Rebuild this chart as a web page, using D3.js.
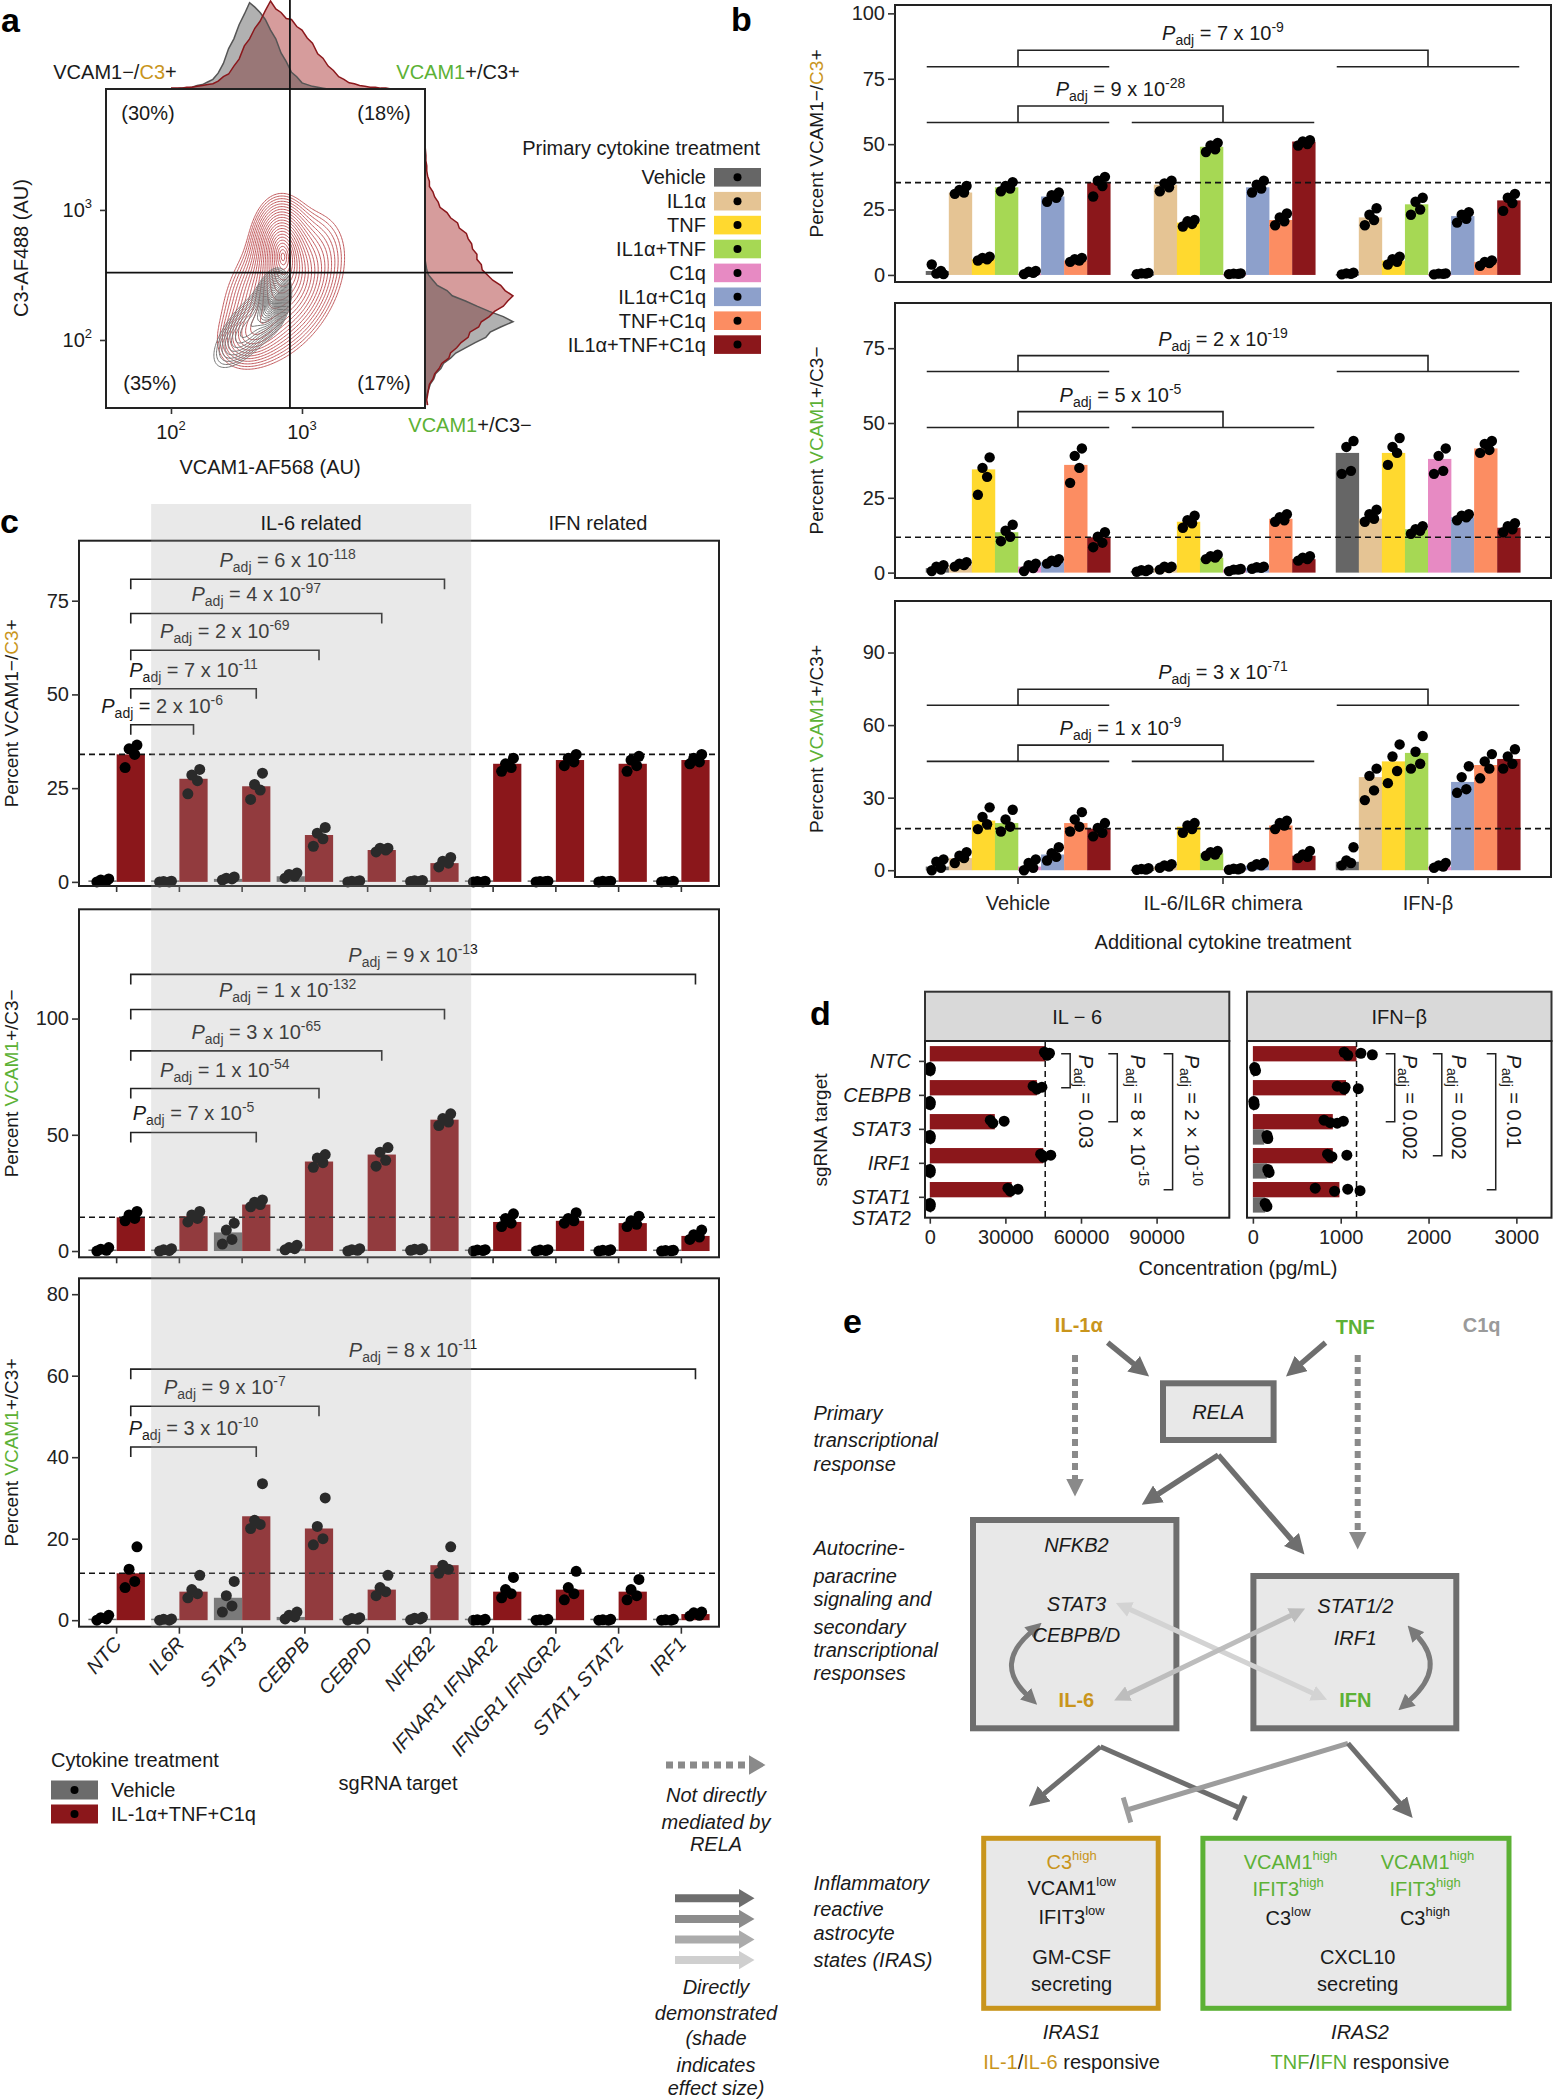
<!DOCTYPE html>
<html><head><meta charset="utf-8">
<script src="https://cdn.jsdelivr.net/npm/d3@7/dist/d3.min.js"></script>
<style>html,body{margin:0;padding:0;background:#fff}svg{display:block}</style>
</head><body>
<svg id="fig" width="1553" height="2100" xmlns="http://www.w3.org/2000/svg"></svg>
<script>
// ================= DATA =================
// Panel a : flow cytometry (log10 units)
const aHistStep = 0.04;
const aTopStart = 2.0;   // log10 VCAM1 of first bin
const aTopGray = [0,0,1,1,2,4,5,8,11,18,29,46,57,73,85,98,93,87,79,67,57,41,31,19,14,7,5,3,2,1,0];
const aTopRed  = [1,1,1,2,2,3,4,5,6,9,14,17,26,34,49,57,69,77,89,100,91,87,80,79,71,67,58,52,40,35,26,21,14,11,7,6,4,3,2,2,1,1,0];
const aRightStart = 1.5; // log10 C3 of first bin
const aRightRed  = [3,2,3,4,5,9,11,16,19,27,29,36,41,49,51,61,64,73,79,89,94,100,91,86,77,71,65,64,59,59,54,53,49,47,39,37,29,25,17,15,11,9,5,5,3,2,2,1,1,0.5,0];
const aRightGray = [0,1,2,4,6,10,12,18,21,29,35,46,57,69,74,86,100,89,73,59,46,31,25,14,9,4,2,1,0];
const aGateVCAM1 = 809, aGateC3 = 330;
const aQuadLabels = ["(30%)","(18%)","(35%)","(17%)"];
// density components: [meanLogVCAM1, meanLogC3, sdX, sdY, rho, weight]
const aRedComps  = [[2.84,2.72,0.1,0.17,0.0,1.0],[2.86,2.4,0.2,0.25,0.4,2.5],[2.62,2.05,0.12,0.12,0.3,0.3]];
const aGrayComps = [[2.77,2.3,0.06,0.11,0.3,1.0],[2.6,2.1,0.14,0.16,0.7,1.3]];

// Panel a/b legend
const bTreatments = ["Vehicle","IL1α","TNF","IL1α+TNF","C1q","IL1α+C1q","TNF+C1q","IL1α+TNF+C1q"];
const bColors = ["#666666","#e5c494","#ffd92f","#a6d854","#e78ac3","#8da0cb","#fc8d62","#8b171b"];
const bGroups = ["Vehicle","IL-6/IL6R chimera","IFN-β"];

// Panel b facet 1: VCAM1-/C3+
const bBarsC3 = [[1.5,31.5,6,33.5,0.5,30,5.5,35.3],[0.3,34.5,20,49,0.3,33.5,21,51],[0.3,22,5.5,27,0.3,22.5,5,28.5]];
const bPtsC3 = [
 [[4,1.5,0.5,0.3],[31,31.5,32.5,34],[5.5,6,6.5,7],[32,33,34,35.5],[0.3,0.8,1.2,1.5],[28,29.5,30.5,31.5],[5,5.5,6,6.5],[30,34,36,37.5]],
 [[0.3,0.5,0.6,0.8],[32,33.5,35,36],[18.5,19.5,20.5,21],[47,48,49.5,50.5],[0.3,0.4,0.5,0.6],[31.5,33,34.5,36],[19,20.5,22,23.5],[49.5,50,51,51.5]],
 [[0.2,0.4,0.6,0.9],[19,21,23,25.5],[4,5,6,7],[23,25,28,29.5],[0.2,0.4,0.5,0.6],[20,21.5,23,24],[3.5,4.5,5,5.5],[24.5,27.5,29.5,31]]];
// Panel b facet 2: VCAM1+/C3-
const bBarsV = [[1.5,2.5,34.5,13.5,2,3.5,36,11.8],[0.5,1.5,17,5,1,1.5,18,4.5],[40,18,40,14.5,38,18.5,41.5,15]];
const bPtsV = [
 [[0.5,1,2,2.5],[2,2.5,3,3.5],[26,32,35,38.5],[10.5,12,14,16],[0.5,1.5,2.5,3],[3,3.5,4,4.5],[30,35,39,41.5],[8.5,10,12,13.5]],
 [[0.3,0.5,0.8,1],[1,1.5,2,2],[15,16.5,17.5,19],[4.5,5,5.5,6],[0.5,1,1,1.2],[1.3,1.6,1.8,2],[17,17.5,18.5,19.5],[4,4.5,5,5.5]],
 [[33,34,42,44],[17,18,19.5,21],[36,40,42,45],[13,14,14.5,15.5],[33,34,39,41.5],[17.5,18.5,19,19.5],[40,41,43,44],[13.5,14.5,15.5,16.5]]];
// Panel b facet 3: VCAM1+/C3+
const bBarsVC = [[1.5,5,20.5,19.5,1.5,6.5,19.5,17.2],[0.3,1.5,18,7,0.5,2,18.5,6],[3.5,38.5,45,48.5,1.5,36.5,43.5,46]];
const bPtsVC = [
 [[0,1,3.5,4.5],[3,5,6,7.5],[17,19,22,26],[16,18,21,25],[0,1,3,4.5],[4,5.5,7,9.5],[16,18,21,24],[14,15.5,17.5,19.5]],
 [[0.2,0.3,0.5,0.8],[1,1.5,2,2.5],[15.5,17,18.5,19.5],[6,6.5,7.5,8],[0.2,0.4,0.6,0.8],[1.5,2,2.5,3],[17,18.5,19.5,20.5],[5,5.5,6.5,8]],
 [[2,3,4,9.5],[29,33,39,42],[36,41,47,52],[42,44,49,55.5],[1,1.5,2,3],[32,33.5,38.5,43],[38,42,45,48],[42,44,47,50]]];
const bDomains = [[-2.7,103.2],[-1.8,90.1],[-2.8,111.3]];
const bTicks = [[0,25,50,75,100],[0,25,50,75],[0,30,60,90]];
const bBrackets = [
 [{a:0,b:2,base:79.6,top:85.9,m:"7",e:"-9"},{a:0,b:1,base:58.3,top:64.6,m:"9",e:"-28"}],
 [{a:0,b:2,base:67.2,top:72.5,m:"2",e:"-19"},{a:0,b:1,base:48.5,top:53.8,m:"5",e:"-5"}],
 [{a:0,b:2,base:68.2,top:74.8,m:"3",e:"-71"},{a:0,b:1,base:45,top:51.7,m:"1",e:"-9"}]];

// Panel c
const cTargets = ["NTC","IL6R","STAT3","CEBPB","CEBPD","NFKB2","IFNAR1 IFNAR2","IFNGR1 IFNGR2","STAT1 STAT2","IRF1"];
const cVehC3 = [0.3,0,0.8,1.5,0.2,0.3,0,0,0,0];
const cVehPtsC3 = [[0,0.3,0.5,0.8],[0,0,0.1,0.2],[0.5,0.8,1,1.3],[1,1.5,2,2.4],[0,0.1,0.2,0.3],[0.1,0.2,0.3,0.4],[0,0,0.1,0.2],[0,0.1,0.1,0.2],[0,0.1,0.2,0.2],[0,0,0.1,0.2]];
const cTriC3 = [34,27.5,25.5,12.5,8.5,5,31.5,32.5,31.5,32.5];
const cTriPtsC3 = [[30.5,34,35.5,36.5],[23.5,27,28.5,30],[22,24.5,26,29],[9.5,11.5,13,14.5],[8,8.5,9,9],[4,5,5.5,6.5],[29.5,30.5,31.5,33],[31,32,33,34],[29.5,31,32.5,33.5],[31.5,32,33,34]];
const cVehV = [0.5,0.2,8,1,0.3,0.5,0.1,0,0,0];
const cVehPtsV = [[0,0.3,0.8,1.5],[0,0.2,0.5,1],[3,5,9,12],[0.5,1,1.5,2.5],[0,0.3,0.6,1],[0.3,0.5,0.8,1],[0,0.2,0.4,0.6],[0,0.2,0.4,0.6],[0,0.2,0.3,0.5],[0,0.1,0.2,0.3]];
const cTriV = [14.5,15,20,38.5,41.5,56.5,12.5,13,12,6.5];
const cTriPtsV = [[13,14,15.5,17],[12.5,14,15.5,17],[19,20,21,22],[36,38,40,41.5],[36.5,39,42.5,44.5],[54,55.5,57,59],[10.5,12,14,16],[12,13,14,16.5],[10.5,11.5,13,15],[5,6,7,9]];
const cVehVC = [0.3,0,5.5,0.8,0.2,0.3,0,0,0,0];
const cVehPtsVC = [[0,0.3,0.6,1.2],[0,0,0.2,0.3],[2,3.5,6,9.5],[0.3,0.8,1.2,2],[0,0.2,0.4,0.6],[0.1,0.3,0.5,0.7],[0,0,0.1,0.2],[0,0,0.1,0.2],[0,0,0.1,0.2],[0,0,0.1,0.2]];
const cTriVC = [11.5,7,25.5,22.5,7.5,13.5,7,7.5,7,1.5];
const cTriPtsVC = [[8,9.5,12.5,18],[5.5,6.5,7.5,11],[22.5,23.5,24.5,33.5],[18.5,20,23,30],[6,7,8,11],[11.5,12.5,13.5,18],[5.5,6.5,7.5,10.5],[5,6.5,8,12],[5,6,7.5,10],[1,1.2,1.8,2]];
const cDomains = [[-1.1,91],[-2.7,147],[-1.6,83.9]];
const cTicks = [[0,25,50,75],[0,50,100],[0,20,40,60,80]];
const cBrackets = [
 [{to:5,y:80.7,m:"6",e:"-118"},{to:4,y:71.6,m:"4",e:"-97"},{to:3,y:61.8,m:"2",e:"-69"},{to:2,y:51.5,m:"7",e:"-11"},{to:1,y:41.9,m:"2",e:"-6"}],
 [{to:9,y:119,m:"9",e:"-13"},{to:5,y:103.9,m:"1",e:"-132"},{to:4,y:86.1,m:"3",e:"-65"},{to:3,y:69.9,m:"1",e:"-54"},{to:2,y:51,m:"7",e:"-5"}],
 [{to:9,y:61.6,m:"8",e:"-11"},{to:3,y:52.5,m:"9",e:"-7"},{to:2,y:42.5,m:"3",e:"-10"}]];

// Panel d
const dTargets = ["NTC","CEBPB","STAT3","IRF1","STAT1 STAT2"];
const dIL6Tri = [45800,42500,25800,45000,32500];
const dIL6TriPts = [[45500,46500,47500],[41000,42500,44500],[24000,25000,29500],[44000,45000,48000],[31000,32000,35000]];
const dIL6Veh = [300,300,300,300,300];
const dIL6VehPts = [[0,100,200],[0,100,200],[0,100,200],[0,100,200],[0,100,200]];
const dIFNTri = [1180,1060,910,910,985];
const dIFNTriPts = [[1040,1080,1230,1360],[960,1040,1050,1200],[810,960,1030,880],[850,880,1070,900],[710,930,1080,1220]];
const dIFNVeh = [20,10,130,160,140];
const dIFNVehPts = [[20,30],[10,15],[160,170],[170,185],[140,160]];
const dIL6Domain = [-1900,118850], dIFNDomain = [-67,3400];
const dIL6Ticks = [0,30000,60000,90000], dIFNTicks = [0,1000,2000,3000];
const dIL6Brackets = [{to:1,x:55700,lx:59200,m:"0.03"},{to:2,x:74400,lx:79760,m:"8",e:"-15"},{to:4,x:96350,lx:101100,m:"2",e:"-10"}];
const dIFNBrackets = [{to:2,x:1615,lx:1710,m:"0.002"},{to:3,x:2151,lx:2272,m:"0.002"},{to:4,x:2765,lx:2890,m:"0.01"}];

// ================= DRAWING =================
const FR = "'Liberation Sans',Arial,Helvetica,sans-serif";
const GOLD = "#c9951c", GREEN = "#5cb135", INK = "#1a1a1a", RED = "#8b171b";
const svg = d3.select("#fig");
svg.append("rect").attr("width",1553).attr("height",2100).attr("fill","#fff");
const defs = svg.append("defs");

function T(g, x, yc, parts, o={}) {
  const size = o.size||20;
  const t = g.append("text").attr("x",x).attr("y",yc+size*0.35)
    .attr("text-anchor",o.anchor||"middle").attr("fill",o.fill||INK)
    .style("font-family",FR).style("font-size",size+"px");
  if (o.italic) t.style("font-style","italic");
  if (o.bold) t.style("font-weight","bold");
  if (o.rotate!=null) t.attr("transform",`rotate(${o.rotate},${x},${yc})`);
  if (typeof parts === "string") parts=[{t:parts}];
  parts.forEach(p=>{
    const s=t.append("tspan").text(p.t);
    if(p.fill) s.attr("fill",p.fill);
    if(p.size) s.style("font-size",p.size+"px");
    if(p.dy) s.attr("dy",p.dy);
    if(p.italic) s.style("font-style","italic");
  });
  return t;
}
function padjParts(m,e,sym){
  const p=[{t:"P",italic:true},{t:"adj",size:14,dy:5}];
  if(e!=null){p.push({t:` = ${m} ${sym||"x"} 10`,dy:-5});p.push({t:e,size:14,dy:-8});}
  else p.push({t:` = ${m}`,dy:-5});
  return p;
}
function sup(base,s,fill){return [{t:base,fill:fill},{t:s,size:13,dy:-9,fill:fill}];}
function styleAxis(sel,size){
  sel.select(".domain").remove();
  sel.selectAll(".tick line").attr("stroke","#333").attr("stroke-width",1.6);
  sel.selectAll(".tick text").style("font-family",FR).style("font-size",(size||20)+"px").attr("fill","#222");
}
function letter(x,y,s){svg.append("text").attr("x",x).attr("y",y).text(s).style("font-family",FR).style("font-weight","bold").style("font-size","34px").attr("fill","#000");}

// ---------- Panel a ----------
(function(){
  const g=svg.append("g");
  const X0=106,X1=425,Y0=89,Y1=408;
  const xa=d3.scaleLog().domain([10**1.504,10**3.939]).range([X0,X1]);
  const ya=d3.scaleLog().domain([10**1.477,10**3.93]).range([Y1,Y0]);
  const hT=d3.scaleLinear().domain([0,100]).range([Y0,1]);
  const topArea=(arr)=>d3.area().x((d,i)=>xa(10**(aTopStart+i*aHistStep))).y0(Y0).y1(d=>hT(d))(arr);
  const topLine=(arr)=>d3.line().x((d,i)=>xa(10**(aTopStart+i*aHistStep))).y(d=>hT(d))(arr);
  g.append("path").attr("d",topArea(aTopRed)).attr("fill","#b54a4a").attr("fill-opacity",0.55);
  g.append("path").attr("d",topArea(aTopGray)).attr("fill","#444").attr("fill-opacity",0.42);
  g.append("path").attr("d",topLine(aTopGray)).attr("fill","none").attr("stroke","#555").attr("stroke-width",1.5);
  g.append("path").attr("d",topLine(aTopRed)).attr("fill","none").attr("stroke",RED).attr("stroke-width",1.5);
  const hR=d3.scaleLinear().domain([0,100]).range([X1,X1+88]);
  const rArea=(arr)=>d3.area().y((d,i)=>ya(10**(aRightStart+i*aHistStep))).x0(X1).x1(d=>hR(d))(arr);
  const rLine=(arr)=>d3.line().y((d,i)=>ya(10**(aRightStart+i*aHistStep))).x(d=>hR(d))(arr);
  g.append("path").attr("d",rArea(aRightRed)).attr("fill","#b54a4a").attr("fill-opacity",0.55);
  g.append("path").attr("d",rArea(aRightGray)).attr("fill","#444").attr("fill-opacity",0.42);
  g.append("path").attr("d",rLine(aRightGray)).attr("fill","none").attr("stroke","#555").attr("stroke-width",1.5);
  g.append("path").attr("d",rLine(aRightRed)).attr("fill","none").attr("stroke",RED).attr("stroke-width",1.5);
  const n=220, lx0=1.504,lx1=3.939,ly0=1.477,ly1=3.93;
  function dens(comps,lx,ly){let s=0;for(const [mx,my,sx,sy,r,w] of comps){const dx=(lx-mx)/sx,dy=(ly-my)/sy;const q=(dx*dx-2*r*dx*dy+dy*dy)/(1-r*r);s+=w*Math.exp(-0.5*q)/(sx*sy*Math.sqrt(1-r*r));}return s;}
  const clip=defs.append("clipPath").attr("id","aclip");
  clip.append("rect").attr("x",X0).attr("y",Y0).attr("width",X1-X0).attr("height",Y1-Y0);
  const proj=d3.geoTransform({point:function(x,y){this.stream.point(X0+x/n*(X1-X0),Y0+y/n*(Y1-Y0));}});
  const path=d3.geoPath(proj);
  [[aRedComps,"#c25a5d",22,2.5],[aGrayComps,"#767676",20,2.35]].forEach(([comps,col,nl,rmax])=>{
    const vals=new Array(n*n);
    for(let j=0;j<n;j++)for(let i=0;i<n;i++){
      const lx=lx0+(i+0.5)/n*(lx1-lx0), ly=ly1-(j+0.5)/n*(ly1-ly0);
      vals[j*n+i]=dens(comps,lx,ly);
    }
    const mx=d3.max(vals);
    const th=d3.range(1,nl+1).map(k=>mx*Math.exp(-0.5*Math.pow(rmax*k/nl,2))).reverse();
    const cs=d3.contours().size([n,n]).thresholds(th)(vals);
    g.append("g").attr("clip-path","url(#aclip)").selectAll("path").data(cs).join("path")
      .attr("d",path).attr("fill","none").attr("stroke",col).attr("stroke-width",1);
  });
  g.append("rect").attr("x",X0).attr("y",Y0).attr("width",X1-X0).attr("height",Y1-Y0).attr("fill","none").attr("stroke","#222").attr("stroke-width",2);
  g.append("line").attr("x1",xa(aGateVCAM1)).attr("x2",xa(aGateVCAM1)).attr("y1",0).attr("y2",Y1).attr("stroke","#111").attr("stroke-width",1.8);
  g.append("line").attr("x1",X0).attr("x2",X1+88).attr("y1",ya(aGateC3)).attr("y2",ya(aGateC3)).attr("stroke","#111").attr("stroke-width",1.8);
  const ax=g.append("g").attr("transform",`translate(0,${Y1})`).call(d3.axisBottom(xa).tickValues([100,1000]).tickSize(6).tickFormat(""));
  styleAxis(ax);
  const ay=g.append("g").attr("transform",`translate(${X0},0)`).call(d3.axisLeft(ya).tickValues([100,1000]).tickSize(6).tickFormat(""));
  styleAxis(ay);
  [[100,"2"],[1000,"3"]].forEach(([v,e])=>{
    T(g,xa(v),432,sup("10",e),{});
    T(g,92,ya(v),sup("10",e),{anchor:"end"});
  });
  T(g,270,467,"VCAM1-AF568 (AU)");
  T(g,21,248,"C3-AF488 (AU)",{rotate:-90});
  T(g,148,113,aQuadLabels[0]); T(g,384,113,aQuadLabels[1]);
  T(g,150,383,aQuadLabels[2]); T(g,384,383,aQuadLabels[3]);
  T(g,115,72,[{t:"VCAM1−/"},{t:"C3",fill:GOLD},{t:"+"}]);
  T(g,458,72,[{t:"VCAM1",fill:GREEN},{t:"+/C3+"}]);
  T(g,470,425,[{t:"VCAM1",fill:GREEN},{t:"+/C3−"}]);
  T(g,760,148,"Primary cytokine treatment",{anchor:"end"});
  bTreatments.forEach((t,i)=>{
    const yc=177.3+i*23.9;
    g.append("rect").attr("x",714).attr("y",yc-9.3).attr("width",47).attr("height",18.6).attr("fill",bColors[i]);
    g.append("circle").attr("cx",737.5).attr("cy",yc).attr("r",4).attr("fill","#000");
    T(g,706,yc,t,{anchor:"end"});
  });
})();
letter(1,32,"a"); letter(731,31,"b");

// ---------- Panel b ----------
(function(){
  const BL=895,BR=1551, boxes=[[5,282],[303,578],[601,877]];
  const xb=d3.scaleBand().domain(bGroups).range([BL,BR]).paddingOuter(0.1).paddingInner(0);
  const xbi=d3.scaleBand().domain(bTreatments).range([0,xb.bandwidth()*0.9]);
  const gc=gr=>xb(gr)+xb.bandwidth()/2;
  const jit=[-0.24,0.16,-0.04,0.27];
  const facets=[
    {bars:bBarsC3,pts:bPtsC3,title:[{t:"Percent VCAM1−/"},{t:"C3",fill:GOLD},{t:"+"}]},
    {bars:bBarsV,pts:bPtsV,title:[{t:"Percent "},{t:"VCAM1",fill:GREEN},{t:"+/C3−"}]},
    {bars:bBarsVC,pts:bPtsVC,title:[{t:"Percent "},{t:"VCAM1",fill:GREEN},{t:"+/C3+"}]}];
  facets.forEach((f,fi)=>{
    const [top,bot]=boxes[fi];
    const y=d3.scaleLinear().domain(bDomains[fi]).range([bot,top]);
    const g=svg.append("g");
    bGroups.forEach((gr,gi)=>bTreatments.forEach((t,ti)=>{
      const x0=xb(gr)+xb.bandwidth()*0.05+xbi(t), v=f.bars[gi][ti];
      g.append("rect").attr("x",x0).attr("y",y(v)).attr("width",xbi.bandwidth()+0.3).attr("height",Math.max(1.5,y(0)-y(v))).attr("fill",bColors[ti]);
    }));
    g.append("line").attr("x1",BL).attr("x2",BR).attr("y1",y(f.bars[0][7])).attr("y2",y(f.bars[0][7]))
      .attr("stroke","#111").attr("stroke-width",1.6).attr("stroke-dasharray","6,4");
    bGroups.forEach((gr,gi)=>bTreatments.forEach((t,ti)=>{
      const cx=xb(gr)+xb.bandwidth()*0.05+xbi(t)+xbi.bandwidth()/2;
      f.pts[gi][ti].forEach((v,k)=>g.append("circle").attr("cx",cx+jit[k]*xbi.bandwidth()).attr("cy",y(v)).attr("r",5.2).attr("fill","#000"));
    }));
    bBrackets[fi].forEach(br=>{
      const yb=y(br.base), yt=y(br.top);
      [br.a,br.b].forEach(k=>{
        const c=gc(bGroups[k]);
        g.append("line").attr("x1",c-xb.bandwidth()*0.45+1).attr("x2",c+xb.bandwidth()*0.45-1).attr("y1",yb).attr("y2",yb).attr("stroke","#222").attr("stroke-width",1.6);
      });
      const ca=gc(bGroups[br.a]), cb=gc(bGroups[br.b]);
      g.append("path").attr("d",`M${ca},${yb}V${yt}H${cb}V${yb}`).attr("fill","none").attr("stroke","#222").attr("stroke-width",1.6);
      T(g,(ca+cb)/2,yt-17,padjParts(br.m,br.e));
    });
    g.append("rect").attr("x",BL).attr("y",top).attr("width",BR-BL).attr("height",bot-top).attr("fill","none").attr("stroke","#222").attr("stroke-width",2);
    const ay=g.append("g").attr("transform",`translate(${BL},0)`).call(d3.axisLeft(y).tickValues(bTicks[fi]).tickSize(7).tickPadding(3));
    styleAxis(ay);
    T(g,816,(top+bot)/2,f.title,{rotate:-90,size:19});
    if(fi===2){
      const ax=g.append("g").attr("transform",`translate(0,${bot})`).call(d3.axisBottom(xb).tickSize(7).tickPadding(12));
      styleAxis(ax);
      T(g,(BL+BR)/2,942,"Additional cytokine treatment");
    }
  });
})();

// ---------- Panel c ----------
(function(){
  const CL=79,CR=719, boxes=[[540.7,886],[909.3,1257.3],[1278.3,1626.7]];
  const xc=d3.scaleBand().domain(cTargets).range([CL,CR]).paddingOuter(0.1).paddingInner(0);
  const bw=xc.bandwidth()*0.45, ctr=t=>xc(t)+xc.bandwidth()/2;
  const jit=[-0.2,0.14,-0.06,0.22];
  const facets=[
    {veh:cVehC3,vp:cVehPtsC3,tri:cTriC3,tp:cTriPtsC3,title:[{t:"Percent VCAM1−/"},{t:"C3",fill:GOLD},{t:"+"}]},
    {veh:cVehV,vp:cVehPtsV,tri:cTriV,tp:cTriPtsV,title:[{t:"Percent "},{t:"VCAM1",fill:GREEN},{t:"+/C3−"}]},
    {veh:cVehVC,vp:cVehPtsVC,tri:cTriVC,tp:cTriPtsVC,title:[{t:"Percent "},{t:"VCAM1",fill:GREEN},{t:"+/C3+"}]}];
  facets.forEach((f,fi)=>{
    const [top,bot]=boxes[fi];
    const y=d3.scaleLinear().domain(cDomains[fi]).range([bot,top]);
    const g=svg.append("g");
    cTargets.forEach((t,i)=>{
      const c=ctr(t);
      g.append("rect").attr("x",c-bw).attr("y",Math.min(y(f.veh[i]),y(0)-1.5)).attr("width",bw).attr("height",Math.max(1.5,y(0)-y(f.veh[i]))).attr("fill","#6b6b6b");
      g.append("rect").attr("x",c).attr("y",y(f.tri[i])).attr("width",bw).attr("height",y(0)-y(f.tri[i])).attr("fill",RED);
    });
    g.append("line").attr("x1",CL).attr("x2",CR).attr("y1",y(f.tri[0])).attr("y2",y(f.tri[0]))
      .attr("stroke","#111").attr("stroke-width",1.6).attr("stroke-dasharray","6,4");
    cTargets.forEach((t,i)=>{
      const c=ctr(t);
      f.vp[i].forEach((v,k)=>g.append("circle").attr("cx",c-bw/2+jit[k]*bw).attr("cy",y(v)).attr("r",5.5).attr("fill","#000"));
      f.tp[i].forEach((v,k)=>g.append("circle").attr("cx",c+bw/2+jit[k]*bw).attr("cy",y(v)).attr("r",5.5).attr("fill","#000"));
    });
    cBrackets[fi].forEach(br=>{
      const x0=ctr(cTargets[0])+bw/2, x1=ctr(cTargets[br.to])+bw/2, yb=y(br.y);
      g.append("path").attr("d",`M${x0},${yb+10}V${yb}H${x1}V${yb+10}`).attr("fill","none").attr("stroke","#222").attr("stroke-width",1.6);
      T(g,(x0+x1)/2,yb-19,padjParts(br.m,br.e));
    });
    g.append("rect").attr("x",CL).attr("y",top).attr("width",CR-CL).attr("height",bot-top).attr("fill","none").attr("stroke","#222").attr("stroke-width",2);
    const ay=g.append("g").attr("transform",`translate(${CL},0)`).call(d3.axisLeft(y).tickValues(cTicks[fi]).tickSize(7).tickPadding(3));
    styleAxis(ay);
    T(g,11,(top+bot)/2,f.title,{rotate:-90,size:19});
    if(fi===2){
      const ax=g.append("g").attr("transform",`translate(0,${bot})`).call(d3.axisBottom(xc).tickSize(7).tickFormat(""));
      styleAxis(ax);
      cTargets.forEach(t=>{
        const x=ctr(t)+6, yy=bot+18;
        g.append("text").attr("x",x).attr("y",yy).attr("text-anchor","end").attr("transform",`rotate(-48,${x},${yy})`)
          .style("font-family",FR).style("font-size","20px").style("font-style","italic").attr("fill","#222").text(t);
      });
    } else {
      const ax=g.append("g").attr("transform",`translate(0,${bot})`).call(d3.axisBottom(xc).tickSize(6).tickFormat(""));
      styleAxis(ax);
    }
  });
  const sx0=ctr("IL6R")-bw, sx1=ctr("NFKB2")+xc.bandwidth()*0.65;
  svg.append("rect").attr("x",sx0).attr("y",504).attr("width",sx1-sx0).attr("height",1627-504).attr("fill","#a8a8a8").attr("fill-opacity",0.25);
  T(svg,(sx0+sx1)/2,523,"IL-6 related");
  T(svg,598,523,"IFN related");
  T(svg,398,1783,"sgRNA target");
  T(svg,51,1760,"Cytokine treatment",{anchor:"start"});
  [["#6b6b6b","Vehicle"],[RED,"IL-1α+TNF+C1q"]].forEach(([col,lab],i)=>{
    const yc=1790+i*24;
    svg.append("rect").attr("x",51).attr("y",yc-9.5).attr("width",47).attr("height",19).attr("fill",col);
    svg.append("circle").attr("cx",74.5).attr("cy",yc).attr("r",4).attr("fill","#000");
    T(svg,111,yc,lab,{anchor:"start"});
  });
})();
letter(0,533,"c");

// ---------- Panel d ----------
(function(){
  const DT=991.7,DS=1041,DB=1217.7;
  const yd=d3.scaleBand().domain(dTargets).range([DS,DB]).paddingOuter(0.1).paddingInner(0);
  const bh=yd.bandwidth()*0.45, cy=t=>yd(t)+yd.bandwidth()/2;
  const jit=[-1.5,1.5,-0.5,1];
  const facets=[
    {name:[{t:"IL − 6"}],x0:925,x1:1229.3,dom:dIL6Domain,ticks:dIL6Ticks,tri:dIL6Tri,tp:dIL6TriPts,veh:dIL6Veh,vp:dIL6VehPts,br:dIL6Brackets},
    {name:[{t:"IFN−β"}],x0:1247,x1:1551.5,dom:dIFNDomain,ticks:dIFNTicks,tri:dIFNTri,tp:dIFNTriPts,veh:dIFNVeh,vp:dIFNVehPts,br:dIFNBrackets}];
  facets.forEach((f,fi)=>{
    const x=d3.scaleLinear().domain(f.dom).range([f.x0,f.x1]);
    const g=svg.append("g");
    g.append("rect").attr("x",f.x0).attr("y",DT).attr("width",f.x1-f.x0).attr("height",DS-DT).attr("fill","#d9d9d9").attr("stroke","#333").attr("stroke-width",2);
    T(g,(f.x0+f.x1)/2,1016.7,f.name);
    dTargets.forEach((t,i)=>{
      const c=cy(t);
      g.append("rect").attr("x",x(0)).attr("y",c-bh).attr("width",x(f.tri[i])-x(0)).attr("height",bh).attr("fill",RED);
      g.append("rect").attr("x",x(0)).attr("y",c).attr("width",Math.max(1.5,x(f.veh[i])-x(0))).attr("height",bh).attr("fill","#6b6b6b");
    });
    g.append("line").attr("x1",x(f.tri[0])).attr("x2",x(f.tri[0])).attr("y1",DS).attr("y2",DB).attr("stroke","#111").attr("stroke-width",1.5).attr("stroke-dasharray","6,4");
    dTargets.forEach((t,i)=>{
      const c=cy(t);
      f.tp[i].forEach((v,k)=>g.append("circle").attr("cx",x(v)).attr("cy",c-bh/2+jit[k]).attr("r",5.5).attr("fill","#000"));
      f.vp[i].forEach((v,k)=>g.append("circle").attr("cx",x(v)).attr("cy",c+bh/2+jit[k]).attr("r",5.5).attr("fill","#000"));
    });
    f.br.forEach(br=>{
      const y0=cy(dTargets[0])-bh/2, y1=cy(dTargets[br.to])-bh/2, bx=x(br.x);
      g.append("path").attr("d",`M${bx-9},${y0}H${bx}V${y1}H${bx-9}`).attr("fill","none").attr("stroke","#222").attr("stroke-width",1.5);
      const lx=x(br.lx), ly=y0+1;
      const t=g.append("text").attr("x",lx).attr("y",ly).attr("transform",`rotate(90,${lx},${ly})`)
        .style("font-family",FR).style("font-size","20px").attr("fill",INK);
      padjParts(br.m,br.e,"×").forEach(p=>{const s=t.append("tspan").text(p.t);if(p.size)s.style("font-size",p.size+"px");if(p.dy)s.attr("dy",p.dy);if(p.italic)s.style("font-style","italic");});
    });
    g.append("rect").attr("x",f.x0).attr("y",DS).attr("width",f.x1-f.x0).attr("height",DB-DS).attr("fill","none").attr("stroke","#222").attr("stroke-width",2);
    const ax=g.append("g").attr("transform",`translate(0,${DB})`).call(d3.axisBottom(x).tickValues(f.ticks).tickSize(6).tickPadding(6).tickFormat(d3.format("d")));
    styleAxis(ax);
    if(fi===0){
      const ay=g.append("g").attr("transform",`translate(${f.x0},0)`).call(d3.axisLeft(yd).tickSize(6).tickFormat(""));
      styleAxis(ay);
      dTargets.forEach(t=>{
        const parts=t.split(" ");
        parts.forEach((p,k)=>T(g,911,cy(t)+k*21,p,{anchor:"end",italic:true}));
      });
    }
  });
  T(svg,1238,1268,"Concentration (pg/mL)");
  T(svg,820,1130,"sgRNA target",{rotate:-90,size:19});
})();
letter(810,1025,"d");

// ---------- Panel e (schematic) ----------
(function(){
  const g=svg.append("g");
  const mk={};
  function marker(col,len,wid){
    const id="m"+col.replace("#","")+len+"_"+wid;
    if(!mk[id]){
      defs.append("marker").attr("id",id).attr("viewBox",`0 0 ${len} ${wid}`).attr("refX",0.5).attr("refY",wid/2)
        .attr("markerWidth",len).attr("markerHeight",wid).attr("markerUnits","userSpaceOnUse").attr("orient","auto-start-reverse")
        .append("path").attr("d",`M0,0L${len},${wid/2}L0,${wid}Z`).attr("fill",col);
      mk[id]=1;
    }
    return id;
  }
  function arrow(x0,y0,x1,y1,o){
    const len=o.hl||18,wid=o.hw||18,dx=x1-x0,dy=y1-y0,L=Math.hypot(dx,dy),ux=dx/L,uy=dy/L;
    let sx=x0,sy=y0,ex=x1,ey=y1;
    if(o.end!==false){ex-=ux*len;ey-=uy*len;}
    if(o.start){sx+=ux*len;sy+=uy*len;}
    const id=marker(o.color,len,wid);
    const l=g.append("line").attr("x1",sx).attr("y1",sy).attr("x2",ex).attr("y2",ey).attr("stroke",o.color).attr("stroke-width",o.w||5);
    if(o.dash) l.attr("stroke-dasharray",o.dash);
    if(o.end!==false) l.attr("marker-end",`url(#${id})`);
    if(o.start) l.attr("marker-start",`url(#${id})`);
  }
  function tbar(x0,y0,x1,y1,col){
    const dx=x1-x0,dy=y1-y0,L=Math.hypot(dx,dy),px=-dy/L*13,py=dx/L*13;
    g.append("line").attr("x1",x0).attr("y1",y0).attr("x2",x1).attr("y2",y1).attr("stroke",col).attr("stroke-width",5);
    g.append("line").attr("x1",x1-px).attr("y1",y1-py).attr("x2",x1+px).attr("y2",y1+py).attr("stroke",col).attr("stroke-width",5);
  }
  function curve(d,col){
    const id=marker(col,16,16);
    g.append("path").attr("d",d).attr("fill","none").attr("stroke",col).attr("stroke-width",5)
      .attr("marker-start",`url(#${id})`).attr("marker-end",`url(#${id})`);
  }
  function box(x0,y0,x1,y1,col,w){
    g.append("rect").attr("x",x0).attr("y",y0).attr("width",x1-x0).attr("height",y1-y0).attr("fill","#e8e8e8").attr("stroke",col).attr("stroke-width",w||6);
  }
  const DG="#6e6e6e";
  box(1163,1383.3,1273.6,1440,DG,6);
  box(973,1520,1176.4,1728.3,DG,6);
  box(1253.4,1576,1456.3,1728.3,DG,6);
  box(983.7,1838.3,1158.2,2008.3,GOLD,5);
  box(1202.9,1838.3,1509,2008.3,GREEN,5);
  arrow(1107.7,1342.7,1149.5,1376.7,{color:DG,w:5.5,hl:20,hw:20});
  arrow(1325.5,1342.7,1285.6,1376.7,{color:DG,w:5.5,hl:20,hw:20});
  arrow(1075,1355,1075,1497,{color:"#8a8a8a",w:6,dash:"7,5",hl:18,hw:18});
  arrow(1357.7,1355,1357.7,1550,{color:"#8a8a8a",w:6,dash:"7,5",hl:18,hw:18});
  arrow(1218.3,1455,1141.3,1505,{color:DG,w:5.5,hl:20,hw:20});
  arrow(1218.3,1455,1304.8,1555,{color:DG,w:5.5,hl:20,hw:20});
  curve("M1030,1633 Q995,1664 1026,1694","#7a7a7a");
  curve("M1418,1637 Q1446,1668 1410,1700","#7a7a7a");
  arrow(1115.4,1602.7,1327.5,1700,{color:"#d3d3d3",w:5,start:true,hl:16,hw:16});
  arrow(1113.7,1700.7,1305.6,1608.3,{color:"#bdbdbd",w:5,start:true,hl:16,hw:16});
  arrow(1100.5,1746.7,1028.4,1806.7,{color:DG,w:5,hl:20,hw:20});
  tbar(1100.5,1746.7,1240,1808,DG);
  tbar(1348,1743.3,1127,1810,"#9d9d9d");
  arrow(1348,1743.3,1413,1818.3,{color:DG,w:5,hl:20,hw:20});
  arrow(666,1765,766,1765,{color:"#8a8a8a",w:7,dash:"7,5",hl:17,hw:20});
  ["#6e6e6e","#8c8c8c","#ababab","#cfcfcf"].forEach((c,i)=>arrow(675,1898.3+i*20.6,755,1898.3+i*20.6,{color:c,w:8,hl:16,hw:19}));
  T(g,1078.8,1325,"IL-1α",{bold:true,fill:GOLD});
  T(g,1355.3,1326.7,"TNF",{bold:true,fill:GREEN});
  T(g,1481.7,1325,"C1q",{bold:true,fill:"#9a9a9a"});
  T(g,1218.3,1411.7,"RELA",{italic:true});
  [["Primary",1413.3],["transcriptional",1440],["response",1464],["Autocrine-",1548.3],["paracrine",1576],["signaling and",1599.3],["secondary",1626.7],["transcriptional",1650],["responses",1673.3],["Inflammatory",1882.7],["reactive",1909.3],["astrocyte",1933.3],["states (IRAS)",1960]]
    .forEach(([s,y])=>T(g,813.5,y,s,{anchor:"start",italic:true}));
  T(g,1076.4,1545,"NFKB2",{italic:true});
  T(g,1076.4,1604,"STAT3",{italic:true});
  T(g,1076.4,1635,"CEBPB/D",{italic:true});
  T(g,1076.4,1700,"IL-6",{bold:true,fill:GOLD});
  T(g,1355.3,1606,"STAT1/2",{italic:true});
  T(g,1355.3,1638.3,"IRF1",{italic:true});
  T(g,1355.3,1700,"IFN",{bold:true,fill:GREEN});
  T(g,1071.6,1861.7,sup("C3","high",GOLD));
  T(g,1071.6,1888.3,sup("VCAM1","low"));
  T(g,1071.6,1916.7,sup("IFIT3","low"));
  T(g,1071.6,1956.7,"GM-CSF");
  T(g,1071.6,1984,"secreting");
  T(g,1290.4,1861.7,sup("VCAM1","high",GREEN));
  T(g,1427.4,1861.7,sup("VCAM1","high",GREEN));
  T(g,1288,1889.3,sup("IFIT3","high",GREEN));
  T(g,1425,1889.3,sup("IFIT3","high",GREEN));
  T(g,1288,1918.3,sup("C3","low"));
  T(g,1425,1918.3,sup("C3","high"));
  T(g,1357.7,1956.7,"CXCL10");
  T(g,1357.7,1984,"secreting");
  T(g,1071.6,2031.7,"IRAS1",{italic:true});
  T(g,1071.6,2061.7,[{t:"IL-1",fill:GOLD},{t:"/"},{t:"IL-6",fill:GOLD},{t:" responsive"}]);
  T(g,1360,2031.7,"IRAS2",{italic:true});
  T(g,1360,2061.7,[{t:"TNF",fill:GREEN},{t:"/"},{t:"IFN",fill:GREEN},{t:" responsive"}]);
  [["Not directly",1795],["mediated by",1821.7],["RELA",1844],["Directly",1986.7],["demonstrated",2013.3],["(shade",2038.3],["indicates",2065],["effect size)",2088.3]]
    .forEach(([s,y])=>T(g,716,y,s,{italic:true}));
})();
letter(843,1333,"e");
</script>
</body></html>
